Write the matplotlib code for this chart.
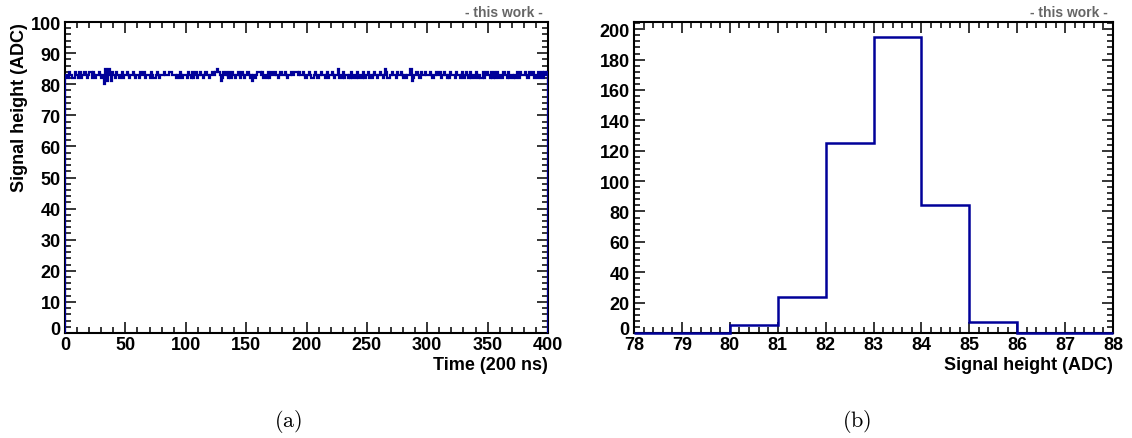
import matplotlib.pyplot as plt
import matplotlib.transforms as mtransforms
import numpy as np
from matplotlib.ticker import MultipleLocator

plt.rcParams["font.family"] = ["Liberation Sans", "DejaVu Sans"]
plt.rcParams["font.weight"] = "bold"
plt.rcParams["axes.labelweight"] = "bold"
plt.rcParams["mathtext.fontset"] = "cm"

# sampled signal height, one digit per sample = ADC value - 80
trace_rows = [
    "3324332243 3242334323 4424323343 2305215314 3243323423",
    "3432334323 3243342333 2432234323 3343334443 3323243233",
    "3243242342 3343234432 3343445431 2434324243 3234324323",
    "3432313234 4434223242 3433432344 3343233433 4443433432",
    "3343223432 3343323423 3432335232 4233232423 3242332423",
    "3423234323 3432354223 3433243343 2323335123 3432243343",
    "3343223433 4233432324 3332433234 2343242332 4323224234",
    "3324242342 3324332423 3232432433 3432433423 3242342434",
]
signal = np.array([80 + int(c) for c in "".join(trace_rows).replace(" ", "")])
time_edges = np.arange(len(signal) + 1)

# distribution of signal heights
hist_edges = np.arange(78, 89)
hist_counts = np.array([0, 0, 5, 24, 125, 195, 84, 7, 0, 0])

blue = "#000099"
W, H = 1132, 439
fig = plt.figure(figsize=(W / 100, H / 100), dpi=100)
ax1 = fig.add_axes([65 / W, 1 - 334 / H, 483 / W, 311 / H])
ax2 = fig.add_axes([634 / W, 1 - 334 / H, 479 / W, 311 / H])


def root_style(ax, xmaj, xmin, ymaj, ymin):
    ax.xaxis.set_major_locator(MultipleLocator(xmaj))
    ax.xaxis.set_minor_locator(MultipleLocator(xmin))
    ax.yaxis.set_major_locator(MultipleLocator(ymaj))
    ax.yaxis.set_minor_locator(MultipleLocator(ymin))
    ax.tick_params(which="both", direction="in", top=True, right=True,
                   width=1.1, labelsize=13, color="black")
    ax.tick_params(which="major", length=8)
    ax.tick_params(which="minor", length=4)
    ax.tick_params(axis="x", pad=2)
    ax.tick_params(axis="y", pad=3)
    for s in ax.spines.values():
        s.set_linewidth(1.5)
    ax.text(0.99, 1.01, "- this work -", transform=ax.transAxes,
            ha="right", va="bottom", fontsize=10, color="#666666",
            fontweight="bold")


ax1.stairs(signal, time_edges, color=blue, lw=1.6, zorder=3)
ax1.set_xlim(0, 400)
ax1.set_ylim(0, 100)
root_style(ax1, 50, 10, 10, 2)
ax1.set_xlabel("Time (200 ns)", loc="right", fontsize=13, labelpad=2)
ax1.set_ylabel("Signal height (ADC)", loc="top", fontsize=13, labelpad=2)

ax2.stairs(hist_counts, hist_edges, color=blue, lw=1.8, zorder=3,
           clip_on=False)
ax2.set_xlim(78, 88)
ax2.set_ylim(0, hist_counts.max() * 1.05)
root_style(ax2, 1, 0.2, 20, 4)
ax2.set_xlabel("Signal height (ADC)", loc="right", fontsize=13, labelpad=2)

# lift the "0" on the y axis a little so it sits above the first x label
fig.canvas.draw()
lift = mtransforms.ScaledTranslation(0, 5 / 100, fig.dpi_scale_trans)
for ax in (ax1, ax2):
    for tick in ax.yaxis.get_major_ticks():
        if tick.get_loc() == 0:
            tick.label1.set_transform(tick.label1.get_transform() + lift)

fig.text(288 / W, 1 - 422 / H, r"$\mathrm{(a)}$", ha="center", va="center",
         fontsize=16)
fig.text(857 / W, 1 - 422 / H, r"$\mathrm{(b)}$", ha="center", va="center",
         fontsize=16)

fig.savefig("out.png", dpi=100)
